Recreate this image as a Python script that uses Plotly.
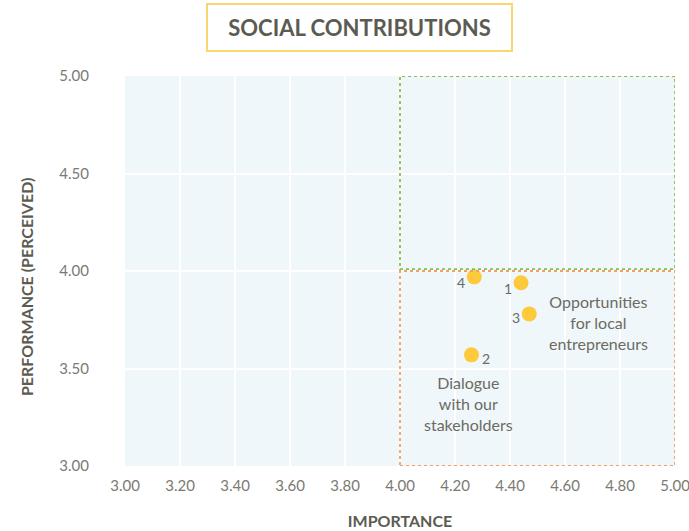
import plotly.graph_objects as go

# Data
ids = ["1", "2", "3", "4"]
importance = [4.44, 4.26, 4.47, 4.27]
performance = [3.94, 3.57, 3.78, 3.97]
label_dx = [-13, 14, -13, -13]
label_dy = [-6, -4, -4, -6]

x_ticks = [3.0, 3.2, 3.4, 3.6, 3.8, 4.0, 4.2, 4.4, 4.6, 4.8, 5.0]
y_ticks = [3.0, 3.5, 4.0, 4.5, 5.0]
x_threshold = 4.0
y_threshold = 4.0
axis_min, axis_max = 3.0, 5.0

callout_text = ["Opportunities<br>for local<br>entrepreneurs", "Dialogue<br>with our<br>stakeholders"]
callout_x = [4.72, 4.25]
callout_y = [3.735, 3.32]

FONT = "Lato"
TXT = "#6b6b63"
DARK = "#5b5b52"

fig = go.Figure()
fig.add_trace(go.Scatter(
    x=importance, y=performance, mode="markers",
    marker=dict(size=15, color="#FFC93C"),
    hoverinfo="skip", showlegend=False, cliponaxis=False,
))
for i, x, y, dx, dy in zip(ids, importance, performance, label_dx, label_dy):
    fig.add_annotation(x=x, y=y, text=i, showarrow=False, xshift=dx, yshift=dy,
                       font=dict(family=FONT, size=14, color=TXT))

# quadrant boxes
fig.add_shape(type="rect", x0=x_threshold, x1=axis_max, y0=y_threshold + 0.01, y1=axis_max,
              line=dict(color="#8BBF4E", width=1.8, dash="3px,3px"), layer="above")
fig.add_shape(type="rect", x0=x_threshold, x1=axis_max, y0=axis_min, y1=y_threshold,
              line=dict(color="#F2A061", width=1.8, dash="3px,3px"), layer="above")

for txt, x, y in zip(callout_text, callout_x, callout_y):
    fig.add_annotation(x=x, y=y, text=txt, showarrow=False,
                       font=dict(family=FONT, size=16, color=TXT), align="center")

# title box
fig.add_annotation(xref="paper", yref="paper", x=0.4255, y=1.062,
                   text="&nbsp;&nbsp;<b>SOCIAL CONTRIBUTIONS</b>&nbsp;&nbsp;", showarrow=False,
                   font=dict(family=FONT, size=22, color=DARK),
                   bordercolor="#FAD66E", borderwidth=2, borderpad=9,
                   bgcolor="white", xanchor="center", yanchor="bottom")

# y-axis title
fig.add_annotation(xref="paper", yref="paper", x=-0.178, y=0.459,
                   text="<b>PERFORMANCE (PERCEIVED)</b>", textangle=-90, showarrow=False,
                   font=dict(family=FONT, size=16, color=DARK),
                   xanchor="center", yanchor="middle")

fig.update_layout(
    width=689, height=531,
    margin=dict(l=125, r=14, t=76, b=65),
    paper_bgcolor="white", plot_bgcolor="#F0F7FA",
    font=dict(family=FONT, color=TXT),
    xaxis=dict(range=[axis_min, axis_max], tickvals=x_ticks, automargin=False,
               ticktext=[f"{v:.2f}" for v in x_ticks], ticklabeloverflow="allow",
               showgrid=True, gridcolor="white", gridwidth=2, zeroline=False,
               showline=False, ticks="outside", ticklen=6, tickcolor="rgba(0,0,0,0)",
               tickfont=dict(family=FONT, size=15, color="#7a7a72"),
               title=dict(text="<b>IMPORTANCE</b>", font=dict(family=FONT, size=16, color=DARK),
                          standoff=22)),
    yaxis=dict(range=[axis_min, axis_max], tickvals=y_ticks, automargin=False,
               ticktext=[f"{v:.2f}" for v in y_ticks],
               showgrid=True, gridcolor="white", gridwidth=2, zeroline=False,
               showline=False, ticks="outside", ticklen=32, tickcolor="rgba(0,0,0,0)",
               tickfont=dict(family=FONT, size=15, color="#7a7a72")),
)

fig.write_html("out.html")
